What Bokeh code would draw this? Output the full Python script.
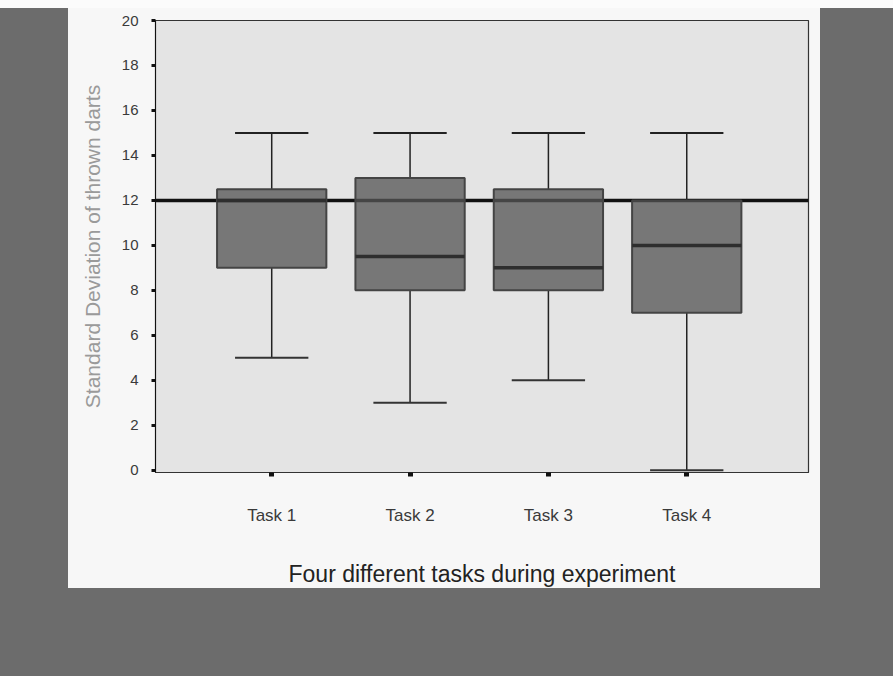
from bokeh.plotting import figure
from bokeh.models import FixedTicker, Span, Range1d
from bokeh.embed import file_html
from bokeh.resources import INLINE

tasks = ["Task 1", "Task 2", "Task 3", "Task 4"]
positions = [1, 2, 3, 4]
whisker_low = [5, 3, 4, 0]
q1 = [9, 8, 8, 7]
median = [12, 9.5, 9, 10]
q3 = [12.5, 13, 12.5, 12]
whisker_high = [15, 15, 15, 15]
reference_value = 12
y_ticks = list(range(0, 21, 2))

BOX_W = 0.79
CAP_W = 0.53

W, H = 893, 676
p = figure(width=W, height=H, output_backend="svg", toolbar_location=None,
           x_range=Range1d(0.16, 4.88), y_range=Range1d(-0.1, 20),
           min_border_left=155, min_border_right=W - 808, min_border_top=20,
           min_border_bottom=H - 472)
p.border_fill_alpha = 0.0
p.styles = {
    "background": (
        "linear-gradient(#fbfbfb, #fbfbfb) 0px 0px / 893px 8px no-repeat, "
        "linear-gradient(#f7f7f7, #f7f7f7) 68px 8px / 752px 580px no-repeat, "
        "#6c6c6c"
    )
}
p.background_fill_color = "#e4e4e4"
p.outline_line_color = "#333333"
p.outline_line_width = 1.2
p.grid.visible = False

# reference line
p.add_layout(Span(location=reference_value, dimension="width",
                  line_color="#111111", line_width=3.5, level="underlay"))

# whiskers
p.segment(positions, whisker_high, positions, q3, line_color="#222222", line_width=1.5)
p.segment(positions, q1, positions, whisker_low, line_color="#222222", line_width=1.5)
cap_l = [x - CAP_W / 2 for x in positions]
cap_r = [x + CAP_W / 2 for x in positions]
p.segment(cap_l, whisker_high, cap_r, whisker_high, line_color="#222222", line_width=2)
p.segment(cap_l, whisker_low, cap_r, whisker_low, line_color="#333333", line_width=2)

# boxes
p.vbar(x=positions, width=BOX_W, bottom=q1, top=q3,
       fill_color="#565656", fill_alpha=0.77, line_color="#444444", line_width=2)
# medians
med_l = [x - BOX_W / 2 for x in positions]
med_r = [x + BOX_W / 2 for x in positions]
p.segment(med_l, median, med_r, median, line_color="#2e2e2e", line_width=3.5)

# axes
p.yaxis.ticker = FixedTicker(ticks=y_ticks)
p.yaxis.minor_tick_line_color = None
p.yaxis.major_tick_in = 0
p.yaxis.major_tick_out = 4
p.yaxis.major_tick_line_width = 3
p.yaxis.major_tick_line_color = "#111111"
p.yaxis.axis_line_color = "#111111"
p.yaxis.major_label_text_font = "Liberation Sans"
p.yaxis.major_label_text_font_size = "15px"
p.yaxis.major_label_text_color = "#3a3a3a"
p.yaxis.major_label_standoff = 13
p.yaxis.axis_label = "Standard Deviation of thrown darts"
p.yaxis.axis_label_text_font = "Liberation Sans"
p.yaxis.axis_label_text_font_size = "21px"
p.yaxis.axis_label_text_font_style = "normal"
p.yaxis.axis_label_text_color = "#9a9a9a"
p.yaxis.axis_label_standoff = 15

p.xaxis.ticker = FixedTicker(ticks=positions)
p.xaxis.major_label_overrides = {pos: t for pos, t in zip(positions, tasks)}
p.xaxis.minor_tick_line_color = None
p.xaxis.major_tick_in = 0
p.xaxis.major_tick_out = 4
p.xaxis.major_tick_line_width = 5
p.xaxis.major_tick_line_color = "#111111"
p.xaxis.axis_line_color = "#333333"
p.xaxis.major_label_text_font = "Liberation Sans"
p.xaxis.major_label_text_font_size = "17px"
p.xaxis.major_label_text_color = "#3a3a3a"
p.xaxis.major_label_standoff = 29
p.xaxis.axis_label = "Four different tasks during experiment"
p.xaxis.axis_label_text_font = "Liberation Sans"
p.xaxis.axis_label_text_font_size = "23px"
p.xaxis.axis_label_text_font_style = "normal"
p.xaxis.axis_label_text_color = "#222222"
p.xaxis.axis_label_standoff = 33

open("out.html", "w").write(file_html(p, INLINE))
